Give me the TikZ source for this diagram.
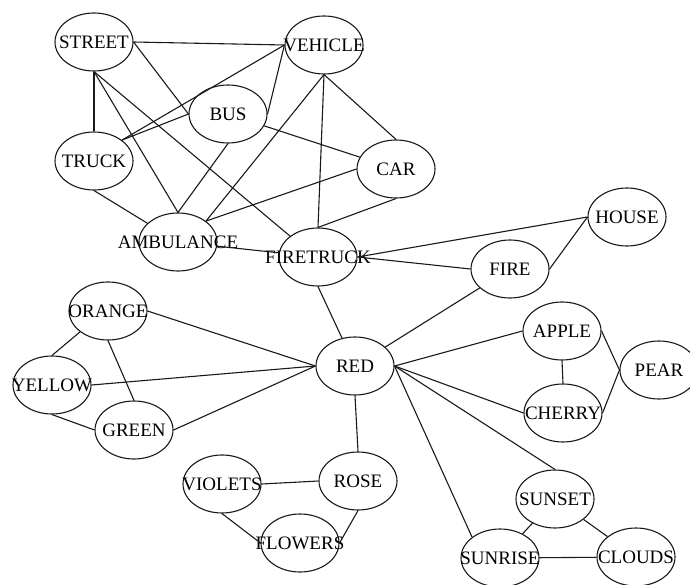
\documentclass[tikz,border=0pt]{standalone}
\usepackage{fontspec}
\setmainfont{Liberation Serif}
\usetikzlibrary{shapes.geometric}
\begin{document}
\begin{tikzpicture}[x=1pt,y=-1pt,
  word/.style={ellipse,draw=black!90,line width=1.1pt,minimum width=78pt,minimum height=58pt,
    inner sep=0pt,font=\fontsize{19}{21}\selectfont},
  link/.style={draw=black!90,line width=1.1pt}]
\useasboundingbox (0,0) rectangle (690,585);
\newcommand{\wl}[1]{\makebox[0pt]{#1}}
% vehicle cluster
\node[word] (street)    at (94,42)   {\wl{STREET}};
\node[word] (vehicle)   at (324,45)  {\wl{VEHICLE}};
\node[word] (bus)       at (228,114) {\wl{BUS}};
\node[word] (truck)     at (94,161)  {\wl{TRUCK}};
\node[word] (car)       at (396,169) {\wl{CAR}};
\node[word] (ambulance) at (178,242) {\wl{AMBULANCE}};
\node[word] (firetruck) at (318,257) {\wl{FIRETRUCK}};
% fire / house
\node[word] (house) at (627,217) {\wl{HOUSE}};
\node[word] (fire)  at (510,269) {\wl{FIRE}};
% colours
\node[word] (red)    at (355,366) {\wl{RED}};
\node[word] (orange) at (108,311) {\wl{ORANGE}};
\node[word] (yellow) at (52,385)  {\wl{YELLOW}};
\node[word] (green)  at (134,430) {\wl{GREEN}};
% fruit
\node[word] (apple)  at (562,331) {\wl{APPLE}};
\node[word] (cherry) at (563,413) {\wl{CHERRY}};
\node[word] (pear)   at (659,370) {\wl{PEAR}};
% flowers
\node[word] (violets) at (222,484) {\wl{VIOLETS}};
\node[word] (rose)    at (358,481) {\wl{ROSE}};
\node[word] (flowers) at (300,543) {\wl{FLOWERS}};
% sky
\node[word] (sunset)  at (555,499) {\wl{SUNSET}};
\node[word] (sunrise) at (500,558) {\wl{SUNRISE}};
\node[word] (clouds)  at (636,557) {\wl{CLOUDS}};

% connectors
\draw[link] (street.east) -- (vehicle.west);
\draw[link] (street.east) -- (bus.west);
\draw[link] (street.south) -- (truck.north);
\draw[link] (street.south) -- (ambulance.north);
\draw[link] (street.south) -- (firetruck.north west);
\draw[link] (vehicle.west) -- (truck.north east);
\draw[link] (bus.west) -- (truck.north east);
\draw[link] (vehicle.west) -- (bus.east);
\draw[link] (vehicle.south) -- (ambulance.north east);
\draw[link] (vehicle.south) -- (firetruck.north);
\draw[link] (vehicle.south) -- (car.north);
\draw[link] (bus.south) -- (ambulance.north);
\draw[link] (bus) -- (car);
\draw[link] (ambulance.north east) -- (car.west);
\draw[link] (car.south) -- (firetruck.north);
\draw[link] (truck.south) -- (ambulance);
\draw[link] (ambulance) -- (firetruck);
\draw[link] (firetruck.east) -- (house.west);
\draw[link] (firetruck.east) -- (fire.west);
\draw[link] (firetruck.south) -- (red);
\draw[link] (fire.east) -- (house.west);
\draw[link] (fire) -- (red);
\draw[link] (red.east) -- (apple.west);
\draw[link] (red.east) -- (cherry.west);
\draw[link] (red.east) -- (sunset.north);
\draw[link] (red.east) -- (sunrise.north west);
\draw[link] (red.south) -- (rose.north);
\draw[link] (red.west) -- (orange.east);
\draw[link] (red.west) -- (yellow.east);
\draw[link] (red.west) -- (green.east);
\draw[link] (apple.south) -- (cherry.north);
\draw[link] (apple.east) -- (pear.west);
\draw[link] (cherry.east) -- (pear.west);
\draw[link] (orange.south west) -- (yellow.north);
\draw[link] (orange.south) -- (green.north);
\draw[link] (yellow.south) -- (green.west);
\draw[link] (violets.east) -- (rose.west);
\draw[link] (violets.south) -- (flowers.west);
\draw[link] (rose.south) -- (flowers.east);
\draw[link] (sunset) -- (sunrise);
\draw[link] (sunset) -- (clouds);
\draw[link] (sunrise) -- (clouds);
\end{tikzpicture}
\end{document}
